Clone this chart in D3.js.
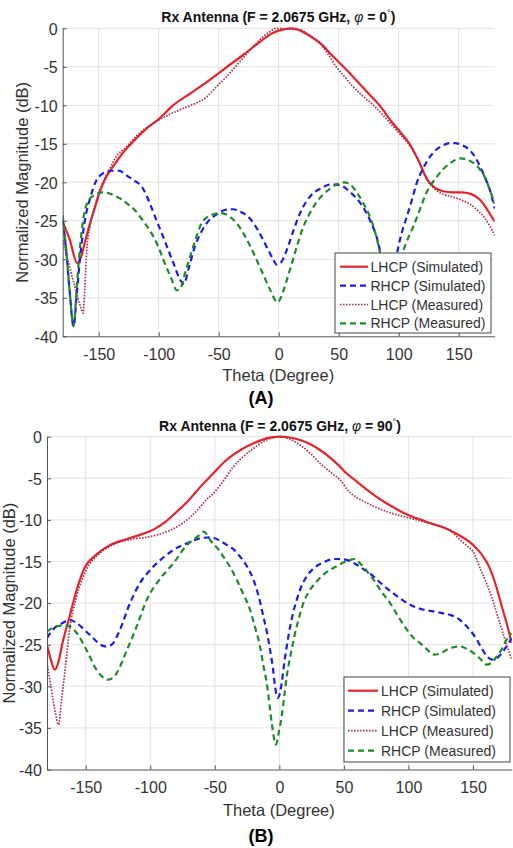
<!DOCTYPE html>
<html>
<head>
<meta charset="utf-8">
<script src="https://cdn.jsdelivr.net/npm/d3@7"></script>
<style>
  body { margin: 0; background: #fff; }
  svg { display: block; font-family: "Liberation Sans", Arial, Helvetica, sans-serif; }
</style>
</head>
<body>
<svg id="chart" width="513" height="848"></svg>
<script>
// ---- data: [theta (deg), normalized magnitude (dB)] ----
const xTicks = [-150, -100, -50, 0, 50, 100, 150]
const yTicks = [0, -5, -10, -15, -20, -25, -30, -35, -40]
const legendLabels = ['LHCP (Simulated)', 'RHCP (Simulated)', 'LHCP (Measured)', 'RHCP (Measured)']
const phiValues = ['0', '90']
const panelLetters = ['(A)', '(B)']

// panel A, phi = 0
const aLhcpSim = [[-180,-25.1],[-174,-27.5],[-168,-30.5],[-165,-29.8],[-161,-27.5],[-157,-25.2],[-153,-23.2],[-149,-21.2],[-145,-19.7],[-140,-18.4],[-136,-17.5],[-130,-16.2],[-120,-14.5],[-110,-13.0],[-100,-11.8],[-88,-10.0],[-75,-8.6],[-60,-7.0],[-43,-5.0],[-30,-3.5],[-15,-1.7],[-5,-0.6],[0,-0.3],[5,-0.1],[10,0],[15,-0.1],[25,-0.9],[35,-2.0],[45,-3.6],[54,-5.0],[65,-6.8],[75,-8.5],[84,-10.0],[95,-12.3],[102,-13.6],[109,-15.0],[116,-17.0],[124,-19.7],[131,-20.8],[138,-21.2],[145,-21.3],[152,-21.3],[160,-21.5],[168,-22.3],[174,-23.6],[180,-25.1]]
const aRhcpSim = [[-180,-24.9],[-177,-29],[-174,-34.5],[-171,-38.7],[-168,-34],[-165,-29],[-161,-24.5],[-157,-22],[-153,-20.1],[-147,-18.9],[-139,-18.5],[-133,-18.5],[-126,-19.2],[-120,-19.8],[-114,-20.6],[-108,-22.5],[-103,-24.5],[-97,-26.8],[-92,-28.8],[-87,-30.8],[-82,-32.7],[-79,-33.2],[-75,-31.2],[-70,-28.4],[-65,-26.6],[-59,-25.1],[-52,-24.2],[-45,-23.6],[-38,-23.5],[-31,-23.9],[-24,-24.7],[-17,-26.3],[-10,-28.4],[-5,-29.9],[-1.7,-30.7],[2,-30.4],[6.7,-28.8],[12,-26.4],[17.8,-24.0],[23,-22.5],[28.8,-21.4],[35,-20.8],[42.8,-20.3],[47,-20.3],[53,-20.5],[59,-21.2],[68,-22.7],[76,-24.9],[83,-27.9],[87,-31],[92,-35],[96,-31.5],[99.7,-28.4],[103,-26.3],[106.7,-24.5],[111,-22.3],[115,-20.1],[120,-18.3],[126,-16.7],[131,-15.8],[137,-15.2],[142,-14.9],[147,-14.9],[153,-15.2],[159,-15.8],[164,-16.8],[168,-18],[172,-19.4],[176,-21],[180,-23.4]]
const aLhcpMeas = [[-180,-27.5],[-175,-30.5],[-170,-33.5],[-165,-36.2],[-163,-37.0],[-161.5,-33.5],[-160,-29.0],[-157,-25.5],[-153,-23.0],[-149,-21.0],[-145,-19.5],[-140,-18.0],[-136,-16.8],[-127,-15.4],[-116,-13.6],[-102,-12.1],[-82.5,-10.6],[-70,-9.8],[-60,-8.9],[-52,-7.6],[-43.6,-6.3],[-30,-3.9],[-15.8,-1.5],[-8,-0.5],[-2,0],[8,-0.1],[17.6,-0.2],[25,-0.8],[34,-1.9],[41,-3.3],[48,-5.0],[55,-6.3],[62,-7.6],[70,-8.8],[79,-10.0],[87,-11.3],[95.6,-12.8],[102,-13.9],[108,-15.0],[116,-17.0],[124,-19.8],[131,-21.0],[138,-21.6],[145,-21.9],[152,-22.3],[160,-22.9],[166,-23.7],[172,-24.7],[176,-25.7],[180,-26.9]]
const aRhcpMeas = [[-180,-24.3],[-177,-29],[-174,-34.5],[-171,-38.7],[-168,-33],[-165,-27.5],[-162,-24],[-159,-22.5],[-153,-21.6],[-147.5,-21.3],[-142,-21.4],[-136,-21.8],[-131,-22.2],[-126,-22.8],[-120,-23.6],[-113,-25.0],[-106,-26.6],[-100,-28.5],[-95,-30.5],[-90,-32.3],[-85,-34.0],[-82,-33.8],[-78,-31.8],[-72.5,-29.0],[-68,-26.8],[-64,-25.2],[-60,-24.6],[-55,-24.2],[-49,-24.0],[-45,-24.1],[-40.6,-24.5],[-35,-25.3],[-29.5,-26.6],[-24,-28.2],[-18.3,-30.1],[-12,-32.3],[-7,-34.0],[-1,-35.6],[3,-34.5],[6.7,-32.7],[11,-30.5],[15,-28.4],[20,-26.0],[26,-24.0],[31,-22.7],[37,-21.6],[43,-20.8],[48,-20.3],[54,-20.0],[59,-20.2],[65,-21.3],[70.5,-22.7],[75,-24.1],[79,-25.8],[84,-28.8],[88,-32],[93,-35],[98,-32],[104,-28.8],[108,-27.2],[112,-25.8],[118,-23.4],[123,-21.4],[127,-20.3],[131.7,-19.3],[137,-18.3],[143,-17.5],[151,-16.9],[159,-17.2],[164,-17.7],[168,-18.4],[172,-19.4],[176,-21],[180,-22.8]]

// panel B, phi = 90
const bLhcpSim = [[-180,-25],[-177,-26.8],[-174,-28],[-171,-27],[-168,-24.8],[-162.5,-21.6],[-157,-18.4],[-151,-15.8],[-142,-14.2],[-131,-13.0],[-118,-12.3],[-108,-11.8],[-98,-11.2],[-88,-10.2],[-80,-9.1],[-70,-7.6],[-61,-6.0],[-50,-4.2],[-41,-2.8],[-30,-1.6],[-20,-0.8],[-10,-0.2],[0,0],[8,-0.1],[16,-0.4],[24,-0.9],[31.5,-1.6],[40,-2.6],[47,-3.6],[52,-4.4],[60,-5.4],[68,-6.4],[75,-7.2],[83,-8.0],[92,-8.8],[101,-9.5],[110,-10.0],[117,-10.4],[125,-10.8],[132.7,-11.3],[140,-11.9],[150,-13.0],[157,-14.2],[163,-15.8],[168,-18.0],[172,-20.2],[176,-22.4],[180,-24.8]]
const bRhcpSim = [[-180,-24.2],[-175.5,-23.2],[-168,-22.4],[-162.5,-22.0],[-157,-22.4],[-147,-23.8],[-135,-25.2],[-130,-25.0],[-123.5,-23.2],[-115.7,-20],[-108,-17.6],[-100,-16],[-92,-14.8],[-82,-13.6],[-71.5,-12.8],[-61,-12.2],[-53,-12.1],[-46,-12.5],[-40.8,-13],[-35,-13.6],[-30.5,-14.4],[-25,-15.6],[-20,-17.2],[-16,-19.2],[-12.4,-21.6],[-9.5,-23.6],[-7.2,-25.6],[-5,-27.8],[-3.3,-30],[-1.5,-31.4],[0.5,-30.8],[1.8,-29.6],[4,-27],[7,-24],[10,-21.6],[13.5,-19.6],[17,-18],[21.2,-16.8],[26,-15.9],[31.5,-15.3],[37,-14.9],[42,-14.7],[47,-14.7],[52,-14.8],[60,-15.4],[66,-16],[73,-16.8],[80,-17.8],[88,-18.8],[96,-19.7],[104,-20.4],[112,-20.8],[119.4,-21],[126,-21.2],[132,-21.4],[138,-21.8],[142.6,-22.4],[148,-23.3],[153,-24.4],[157,-25.5],[160.8,-26.4],[165,-26.8],[168.5,-26.6],[172,-26.1],[176,-25.2],[180,-24.2]]
const bLhcpMeas = [[-180,-27.2],[-177,-30],[-174,-32.8],[-171,-34.6],[-169,-32],[-166,-28],[-162.5,-23.2],[-157,-19.2],[-149.5,-16],[-139,-14],[-126,-12.8],[-113,-12.3],[-100,-12.0],[-87,-11.4],[-74,-10.3],[-64,-8.9],[-56,-7.5],[-51,-6.8],[-42,-5],[-35.6,-3.6],[-28,-2.4],[-20,-1.4],[-10,-0.4],[-1,0],[8,-0.3],[16,-1.0],[24,-2.0],[31.5,-3.2],[40,-4.3],[47,-5.2],[54,-6.6],[60,-7.3],[67,-7.9],[75,-8.5],[85,-9.1],[94,-9.5],[104,-9.9],[114,-10.3],[122,-10.6],[132.7,-11.3],[140,-12.4],[146,-13.2],[150,-13.8],[156,-16],[161,-17.8],[166,-20],[170,-22],[174,-24],[177,-25.4],[180,-26.8]]
const bRhcpMeas = [[-180,-23.4],[-176,-23],[-173,-22.8],[-167,-22.7],[-162.5,-22.8],[-157,-23.6],[-149.5,-25.6],[-141.7,-28],[-136,-29],[-132.6,-29.2],[-129,-29],[-126,-28.4],[-118,-25.6],[-110.5,-22.8],[-102.7,-19.6],[-92,-17],[-82,-15.2],[-71.5,-13],[-65,-12.2],[-61,-11.7],[-58.5,-11.4],[-56,-11.8],[-53.7,-12.4],[-48,-13.4],[-43.4,-14.4],[-38,-15.7],[-33,-17.2],[-28,-18.9],[-22.7,-20.8],[-19,-22.8],[-15,-25.2],[-12.5,-27.4],[-9.8,-29.6],[-7.8,-32],[-5.9,-34.4],[-2.6,-37],[-0.5,-35.6],[1.8,-33.6],[3.8,-31.2],[5.7,-28.8],[9,-26],[12.2,-23.6],[15.5,-21.6],[18.6,-20],[23,-18.6],[29,-17.4],[34,-16.6],[39.3,-16],[44,-15.6],[50,-15.1],[55,-14.8],[58,-14.7],[63,-15.3],[68,-16.2],[73,-17.2],[79,-18.6],[85.8,-20],[92,-21.6],[98.8,-23.2],[104,-24.2],[109,-24.8],[114,-25.5],[119.4,-26.2],[124,-26.1],[129.8,-25.6],[135,-25.3],[140,-25.2],[145,-25.5],[150.4,-26],[155,-26.6],[160.8,-27.4],[164,-27.2],[168.5,-26.4],[172,-25.6],[176,-24.4],[180,-23.6]]

// line styles, same order as the legend
const lineStyles = [
  { color: '#e5232b', width: 2.2, dash: null },
  { color: '#1c1ce8', width: 2.2, dash: '6,4' },
  { color: '#a8324e', width: 1.7, dash: '1.6,1.4' },
  { color: '#1f8a2a', width: 2.2, dash: '6,4' },
]

const svg = d3.select('#chart')
const ink = '#333'

const panels = [
  {
    id: 'a', series: [aLhcpSim, aRhcpSim, aLhcpMeas, aRhcpMeas], phi: phiValues[0], letter: panelLetters[0],
    left: 62.7, right: 494.7, top: 28.3, bottom: 336.3,
    titleX: 278.3, titleY: 22, xLabelY: 381, yLabelX: 28, letterY: 404,
    legend: { x: 335, y: 253, w: 156, h: 80, row0: 266.7, step: 18.9, lineX0: 340, lineX1: 368, textX: 370.5 },
  },
  {
    id: 'b', series: [bLhcpSim, bRhcpSim, bLhcpMeas, bRhcpMeas], phi: phiValues[1], letter: panelLetters[1],
    left: 47, right: 511.7, top: 436.7, bottom: 769.5,
    titleX: 280, titleY: 431, xLabelY: 816, yLabelX: 14.5, letterY: 842,
    legend: { x: 344, y: 677, w: 166, h: 85, row0: 690.7, step: 20, lineX0: 348, lineX1: 378, textX: 381 },
  },
]

const drawPanel = (p) => {
  const x = d3.scaleLinear().domain([-180, 180]).range([p.left, p.right])
  const y = d3.scaleLinear().domain([-40, 0]).range([p.bottom, p.top])
  const g = svg.append('g')

  // grid
  g.append('g').selectAll('line').data(xTicks).join('line')
    .attr('x1', (d) => x(d)).attr('x2', (d) => x(d))
    .attr('y1', p.top).attr('y2', p.bottom)
    .attr('stroke', '#e2e2e2').attr('stroke-width', 1)
  g.append('g').selectAll('line').data(yTicks.filter((d) => d > -40)).join('line')
    .attr('x1', p.left).attr('x2', p.right)
    .attr('y1', (d) => y(d)).attr('y2', (d) => y(d))
    .attr('stroke', '#e2e2e2').attr('stroke-width', 1)

  // curves
  g.append('clipPath').attr('id', 'clip-' + p.id)
    .append('rect').attr('x', p.left).attr('y', p.top - 2)
    .attr('width', p.right - p.left).attr('height', p.bottom - p.top + 2)
  const lineGen = d3.line().x((d) => x(d[0])).y((d) => y(d[1])).curve(d3.curveMonotoneX)
  g.append('g').attr('clip-path', `url(#clip-${p.id})`)
    .selectAll('path').data(p.series).join('path')
    .attr('d', lineGen)
    .attr('fill', 'none')
    .attr('stroke', (d, i) => lineStyles[i].color)
    .attr('stroke-width', (d, i) => lineStyles[i].width)
    .attr('stroke-dasharray', (d, i) => lineStyles[i].dash)
    .attr('stroke-linejoin', 'round')

  // axes
  const xAxis = g.append('g')
    .attr('transform', `translate(0,${p.bottom})`)
    .call(d3.axisBottom(x).tickValues(xTicks).tickFormat((d) => String(d)).tickSizeInner(-4).tickSizeOuter(0).tickPadding(12))
  const yAxis = g.append('g')
    .attr('transform', `translate(${p.left},0)`)
    .call(d3.axisLeft(y).tickValues(yTicks).tickFormat((d) => String(d)).tickSizeInner(-4).tickSizeOuter(0).tickPadding(5))
  for (const ax of [xAxis, yAxis]) {
    ax.select('.domain').attr('stroke', '#555')
    ax.selectAll('.tick line').attr('stroke', '#555')
    ax.selectAll('.tick text').attr('fill', ink).style('font-size', '16px')
    ax.attr('font-family', null)
  }
  yAxis.selectAll('.tick text').attr('dy', '0.36em')

  // legend
  const L = p.legend
  const lg = g.append('g')
  lg.append('rect').attr('x', L.x).attr('y', L.y).attr('width', L.w).attr('height', L.h)
    .attr('fill', '#fff').attr('stroke', '#444').attr('stroke-width', 1)
  const rows = lg.selectAll('g.row').data(legendLabels).join('g').attr('class', 'row')
    .attr('transform', (d, i) => `translate(0,${L.row0 + i * L.step})`)
  rows.append('line').attr('x1', L.lineX0).attr('x2', L.lineX1).attr('y1', 0).attr('y2', 0)
    .attr('stroke', (d, i) => lineStyles[i].color)
    .attr('stroke-width', (d, i) => lineStyles[i].width)
    .attr('stroke-dasharray', (d, i) => lineStyles[i].dash)
  rows.append('text').attr('x', L.textX).attr('y', 5)
    .attr('fill', ink).style('font-size', '14px').text((d) => d)

  // title
  const title = g.append('text').attr('x', p.titleX).attr('y', p.titleY)
    .attr('text-anchor', 'middle').attr('fill', '#111')
    .style('font-size', '14px').style('font-weight', 'bold')
  title.append('tspan').text('Rx Antenna (F = 2.0675 GHz, ')
  title.append('tspan').style('font-style', 'italic').style('font-weight', 'normal').text('φ')
  title.append('tspan').text(' = ' + p.phi)
  title.append('tspan').attr('dy', -6).style('font-size', '9px').style('font-weight', 'normal').text('°')
  title.append('tspan').attr('dy', 6).text(')')

  // axis labels
  g.append('text').attr('x', (p.left + p.right) / 2 - 0.5).attr('y', p.xLabelY)
    .attr('text-anchor', 'middle').attr('fill', ink).style('font-size', '16.5px')
    .text('Theta (Degree)')
  g.append('text')
    .attr('transform', `translate(${p.yLabelX},${(p.top + p.bottom) / 2}) rotate(-90)`)
    .attr('text-anchor', 'middle').attr('fill', ink).style('font-size', '16.5px')
    .text('Normalized Magnitude (dB)')

  // panel letter
  g.append('text').attr('x', 261).attr('y', p.letterY)
    .attr('text-anchor', 'middle').attr('fill', '#000')
    .style('font-size', '18px').style('font-weight', 'bold')
    .text(p.letter)
}

panels.forEach(drawPanel)
</script>
</body>
</html>
